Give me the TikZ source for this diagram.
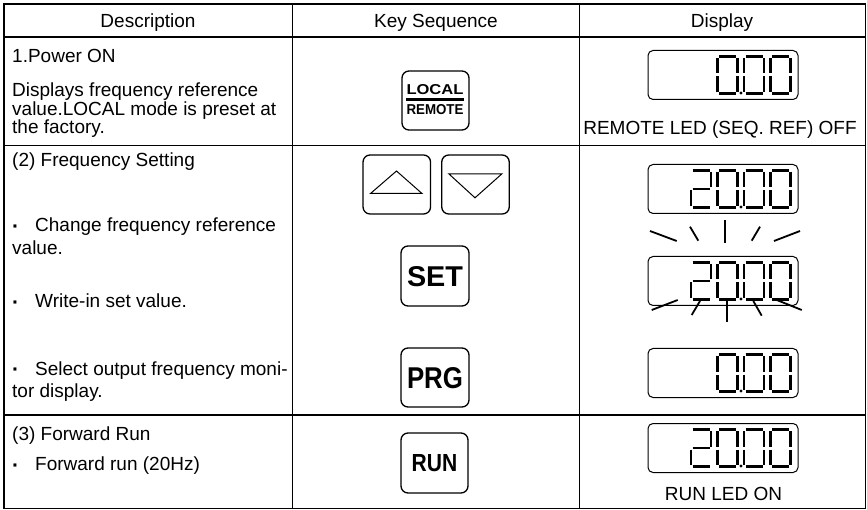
\documentclass[tikz,border=0pt]{standalone}
\usepackage{fontspec}
\setmainfont{Liberation Sans}
\usepackage{graphicx}
% seven-segment paths (local coords, y downward)
\def\sgA{(2.5,1) -- (19.5,1)}
\def\sgB{(21,2.5) -- (21,18)}
\def\sgC{(21,21) -- (21,36.5)}
\def\sgD{(2.5,38) -- (19.5,38)}
\def\sgE{(1,21) -- (1,36.5)}
\def\sgF{(1,2.5) -- (1,18)}
\def\sgG{(2.5,19.5) -- (19.5,19.5)}
\newcommand{\lcddigit}[3]{%
  \foreach \s in {#3}{%
    \draw[segline, shift={(#1,#2)}] \csname sg\s\endcsname;}}
\newcommand{\dzero}[2]{\lcddigit{#1}{#2}{A,B,C,D,E,F}}
\newcommand{\dtwo}[2]{\lcddigit{#1}{#2}{A,B,G,E,D}}
\newcommand{\shownum}[2]{% #1 = digit top, #2 = 1 for 20.00, 0 for 0.00
  \ifnum#2=1 \dtwo{690}{#1}\fi
  \dzero{716.5}{#1}\dzero{743}{#1}\dzero{769.5}{#1}%
  \fill (741,#1+37.5) circle (1.6);}
\begin{document}
\begin{tikzpicture}[x=1pt,y=-1pt,
  gridline/.style={line width=1.6pt},
  txt/.style={anchor=base west, inner sep=0pt, font=\fontsize{19}{19}\selectfont},
  ctxt/.style={anchor=base, inner sep=0pt, font=\fontsize{19}{19}\selectfont},
  bul/.style={anchor=base west, inner sep=0pt, font=\fontsize{21}{21}\selectfont\bfseries},
  keybox/.style={draw, line width=1.3pt, rounded corners=7pt, inner sep=0pt},
  keytxt/.style={anchor=base, inner sep=0pt},
  lcd/.style={draw, line width=1pt, rounded corners=5pt, minimum width=150pt, minimum height=49pt, inner sep=0pt},
  segline/.style={line width=2.3pt},
  ray/.style={line width=1.8pt},
  tri/.style={line width=1pt, line join=miter}]
\useasboundingbox (0,0) rectangle (867,510);
% table grid
\draw[gridline] (4,4) rectangle (865.5,508.5);
\draw[gridline] (4,37) -- (865.5,37);
\draw[gridline] (4,145.5) -- (865.5,145.5);
\draw[gridline] (4,415) -- (865.5,415);
\draw[gridline] (292.5,4) -- (292.5,508.5);
\draw[gridline] (579.5,4) -- (579.5,508.5);
% header
\node[ctxt] (hDesc) at (148,28) {Description};
\node[ctxt] (hKey) at (436,28) {Key Sequence};
\node[ctxt] (hDisp) at (722,28) {Display};
% row 1 text
\node[txt] (r1a) at (12,63) {1.Power ON};
\node[txt] (r1b) at (12,97) {Displays frequency reference};
\node[txt] (r1c) at (12,115.5) {value.LOCAL mode is preset at};
\node[txt] (r1d) at (12,134) {the factory.};
% row 2 text
\node[txt] (r2a) at (12,167) {(2) Frequency Setting};
\node[bul] (b1) at (12,234) {·};
\node[txt] (r2b) at (35,232) {Change frequency reference};
\node[txt] (r2c) at (12,255) {value.};
\node[bul] (b2) at (12,310) {·};
\node[txt] (r2d) at (35,308) {Write-in set value.};
\node[bul] (b3) at (12,377) {·};
\node[txt] (r2e) at (35,375) {Select output frequency moni-};
\node[txt] (r2f) at (12,397) {tor display.};
% row 3 text
\node[txt] (r3a) at (12,440) {(3) Forward Run};
\node[bul] (b4) at (12,472) {·};
\node[txt] (r3b) at (35,470) {Forward run (20Hz)};
% keys
\node[keybox, minimum width=67pt, minimum height=59pt] (kLocal) at (435.5,100.5) {};
\node[keytxt] (tLocal) at (435,95) {\resizebox{57pt}{10pt}{\bfseries LOCAL}};
\draw[line width=2.4pt] (406,99.5) -- (463.5,99.5);
\node[keytxt] (tRemote) at (435,115) {\resizebox{57pt}{10pt}{\bfseries REMOTE}};
\node[keybox, minimum width=67.5pt, minimum height=59pt] (kUp) at (396.8,184.5) {};
\node[keybox, minimum width=67.5pt, minimum height=59pt] (kDown) at (475.5,184.5) {};
\draw[tri] (396.5,171) -- (370.5,193.5) -- (422,193.5) -- cycle;
\draw[tri] (449,174) -- (501.7,174) -- (475,197.8) -- cycle;
\node[keybox, minimum width=68pt, minimum height=60pt] (kSet) at (435,276) {};
\node[keytxt] (tSet) at (435,286.7) {\resizebox{56pt}{20pt}{\bfseries SET}};
\node[keybox, minimum width=68pt, minimum height=59pt] (kPrg) at (435,377.5) {};
\node[keytxt] (tPrg) at (435,388) {\resizebox{56pt}{21pt}{\bfseries PRG}};
\node[keybox, minimum width=67pt, minimum height=60pt] (kRun) at (434.5,463) {};
\node[keytxt] (tRun) at (434.5,471) {\resizebox{45.6pt}{17pt}{\bfseries RUN}};
% displays
\node[lcd] (d1) at (723,75) {};
\shownum{55.5}{0}
\node[ctxt] (t1) at (720,135) {REMOTE LED (SEQ. REF) OFF};
\node[lcd] (dA) at (723,189) {};
\shownum{169.5}{1}
% flashing rays above
\draw[ray] (650,231) -- (676.7,241);
\draw[ray] (690,226.7) -- (698.3,240.7);
\draw[ray] (725,220) -- (725,243.3);
\draw[ray] (760,226.7) -- (751.7,240.7);
\draw[ray] (800,231) -- (774,241);
\node[lcd] (dB) at (723,281) {};
\shownum{261.5}{1}
% flashing rays below
\draw[ray] (651.7,310) -- (677.7,300);
\draw[ray] (691.7,315) -- (700,301);
\draw[ray] (726.7,298.3) -- (726.7,321.7);
\draw[ray] (753.3,301) -- (761.7,315.7);
\draw[ray] (776.7,300) -- (801.7,310);
\node[lcd] (dC) at (723,373) {};
\shownum{353.5}{0}
\node[lcd] (dD) at (723,448) {};
\shownum{428.5}{1}
\node[ctxt] (t2) at (723.5,500) {RUN LED ON};
\end{tikzpicture}
\end{document}
